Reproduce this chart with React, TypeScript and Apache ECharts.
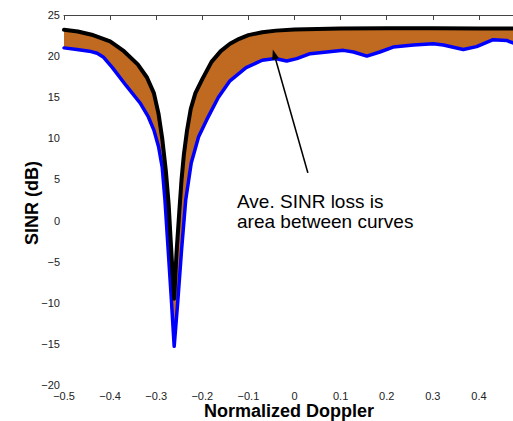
import React, { useEffect, useRef } from "react";
import * as echarts from "echarts";

// Optimum SINR (black) curve
const BLACK_X = [-0.5, -0.47, -0.44, -0.4, -0.37, -0.34, -0.32, -0.305, -0.295, -0.287, -0.279, -0.273, -0.269, -0.265, -0.261, -0.256, -0.25, -0.245, -0.24, -0.233, -0.225, -0.215, -0.2, -0.18, -0.16, -0.14, -0.12, -0.1, -0.07, -0.04, 0.0, 0.05, 0.1, 0.2, 0.3, 0.4, 0.5];
const BLACK_Y = [23.2, 23.0, 22.6, 21.8, 20.6, 19.0, 17.4, 15.5, 13.0, 10.0, 6.0, 2.0, -2.0, -5.8, -9.5, -4.0, 1.0, 5.0, 8.0, 11.0, 13.6, 15.5, 17.2, 19.3, 20.6, 21.5, 22.1, 22.55, 22.9, 23.1, 23.25, 23.3, 23.35, 23.4, 23.4, 23.35, 23.35];

// Achieved SINR (blue) curve
const BLUE_X = [-0.5, -0.472, -0.445, -0.428, -0.415, -0.395, -0.365, -0.335, -0.317, -0.305, -0.295, -0.287, -0.281, -0.274, -0.267, -0.261, -0.253, -0.245, -0.236, -0.224, -0.208, -0.19, -0.165, -0.14, -0.105, -0.07, -0.042, -0.017, 0.005, 0.034, 0.07, 0.106, 0.128, 0.157, 0.185, 0.214, 0.258, 0.301, 0.323, 0.366, 0.395, 0.431, 0.46, 0.474, 0.5];
const BLUE_Y = [21.0, 20.8, 20.6, 20.35, 19.9, 18.6, 16.4, 14.3, 12.6, 11.0, 9.0, 6.5, 2.5, -3.6, -9.7, -15.3, -9.7, -3.6, 2.5, 7.0, 10.2, 12.3, 15.0, 17.0, 18.6, 19.5, 19.7, 19.4, 19.7, 20.3, 20.5, 20.7, 20.5, 20.0, 20.5, 21.1, 21.35, 21.5, 21.35, 20.8, 21.15, 22.0, 21.9, 21.6, 21.3];

const X_MIN = -0.5;
const X_MAX = 0.5;
const X_STEP = 0.1;
const Y_MIN = -20;
const Y_MAX = 25;
const Y_STEP = 5;

const X_TITLE = "Normalized Doppler";
const Y_TITLE = "SINR (dB)";
const NOTE_LINES = ["Ave. SINR loss is", "area between curves"];
const NOTE_POS = [-0.1247, 2.3];
const ARROW_FROM = [0.029, 5.8];
const ARROW_TO = [-0.047, 20.8];

const BROWN = "#BF6A20";
const FONT = "'Liberation Sans', Arial, Helvetica, sans-serif";

const fmt = (v: number) => {
  const r = Math.round(v * 10) / 10;
  if (r === 0) return "0";
  return String(r).replace("-", "\u2212");
};

export default function App() {
  const ref = useRef<HTMLDivElement>(null);
  useEffect(() => {
    if (!ref.current) return;
    const chart = echarts.init(ref.current, undefined, { renderer: "svg" });
    const black = BLACK_X.map((x, i) => [x, BLACK_Y[i]]);
    const blue = BLUE_X.map((x, i) => [x, BLUE_Y[i]]);
    const axisCommon = {
      type: "value",
      min: X_MIN,
      max: X_MAX,
      interval: X_STEP,
      splitLine: { show: false },
    };
    chart.setOption({
      animation: false,
      grid: {
        left: 64,
        right: -12,
        top: 15,
        bottom: 36,
        containLabel: false,
        outerBoundsMode: "none",
      },
      xAxis: [
        {
          ...axisCommon,
          position: "bottom",
          axisLine: { show: false },
          axisTick: { show: false },
          axisLabel: {
            show: true,
            margin: 5,
            fontSize: 11,
            color: "#222",
            fontFamily: FONT,
            showMaxLabel: false,
            formatter: fmt,
          },
        },
        {
          ...axisCommon,
          position: "top",
          axisLine: { show: true, lineStyle: { color: "#444", width: 1 } },
          axisTick: { show: true, inside: true, length: 5, lineStyle: { color: "#444" } },
          axisLabel: { show: false },
        },
      ],
      yAxis: {
        type: "value",
        min: Y_MIN,
        max: Y_MAX,
        interval: Y_STEP,
        splitLine: { show: false },
        axisLine: { show: false },
        axisTick: { show: false },
        axisLabel: {
          margin: 4,
          fontSize: 11,
          color: "#222",
          fontFamily: FONT,
          formatter: fmt,
        },
      },
      series: [
        {
          type: "custom",
          z: 1,
          silent: true,
          data: [[0, 0]],
          renderItem: (_p: any, api: any) => {
            const pts = [
              ...black.map((p) => api.coord(p)),
              ...blue.slice().reverse().map((p) => api.coord(p)),
            ];
            return { type: "polygon", shape: { points: pts }, style: { fill: BROWN } };
          },
        },
        {
          type: "line",
          z: 2,
          data: blue,
          showSymbol: false,
          lineStyle: { color: "#0000FF", width: 3.5, join: "round", cap: "round" },
        },
        {
          type: "line",
          z: 3,
          data: black,
          showSymbol: false,
          lineStyle: { color: "#000000", width: 4, join: "round", cap: "round" },
        },
      ],
    });

    const A = chart.convertToPixel({ gridIndex: 0 }, ARROW_FROM) as number[];
    const B = chart.convertToPixel({ gridIndex: 0 }, ARROW_TO) as number[];
    const N = chart.convertToPixel({ gridIndex: 0 }, NOTE_POS) as number[];
    const dx = B[0] - A[0];
    const dy = B[1] - A[1];
    const len = Math.hypot(dx, dy);
    const ux = dx / len;
    const uy = dy / len;
    const hl = 10;
    const hw = 3.5;
    const bx = B[0] - ux * hl;
    const by = B[1] - uy * hl;
    const head = [
      [B[0], B[1]],
      [bx - uy * hw, by + ux * hw],
      [bx + uy * hw, by - ux * hw],
    ];
    chart.setOption({
      graphic: [
        {
          type: "line",
          shape: { x1: A[0], y1: A[1], x2: bx, y2: by },
          style: { stroke: "#000", lineWidth: 1.6 },
          z: 10,
        },
        { type: "polygon", shape: { points: head }, style: { fill: "#000" }, z: 10 },
        ...NOTE_LINES.map((t, i) => ({
          type: "text",
          x: N[0],
          y: N[1] + i * 20,
          z: 10,
          style: {
            text: t,
            fill: "#000",
            font: `19px ${FONT}`,
            textAlign: "left",
            textVerticalAlign: "middle",
          },
        })),
        {
          type: "text",
          x: 289,
          y: 411,
          style: {
            text: X_TITLE,
            fill: "#000",
            font: `bold 18px ${FONT}`,
            textAlign: "center",
            textVerticalAlign: "middle",
          },
        },
        {
          type: "text",
          x: 32,
          y: 203,
          rotation: Math.PI / 2,
          style: {
            text: Y_TITLE,
            fill: "#000",
            font: `bold 18px ${FONT}`,
            textAlign: "center",
            textVerticalAlign: "middle",
          },
        },
      ],
    });
    return () => chart.dispose();
  }, []);
  return (
    <div
      ref={ref}
      style={{ position: "fixed", left: 0, top: 0, width: 513, height: 421, background: "#fff" }}
    />
  );
}
